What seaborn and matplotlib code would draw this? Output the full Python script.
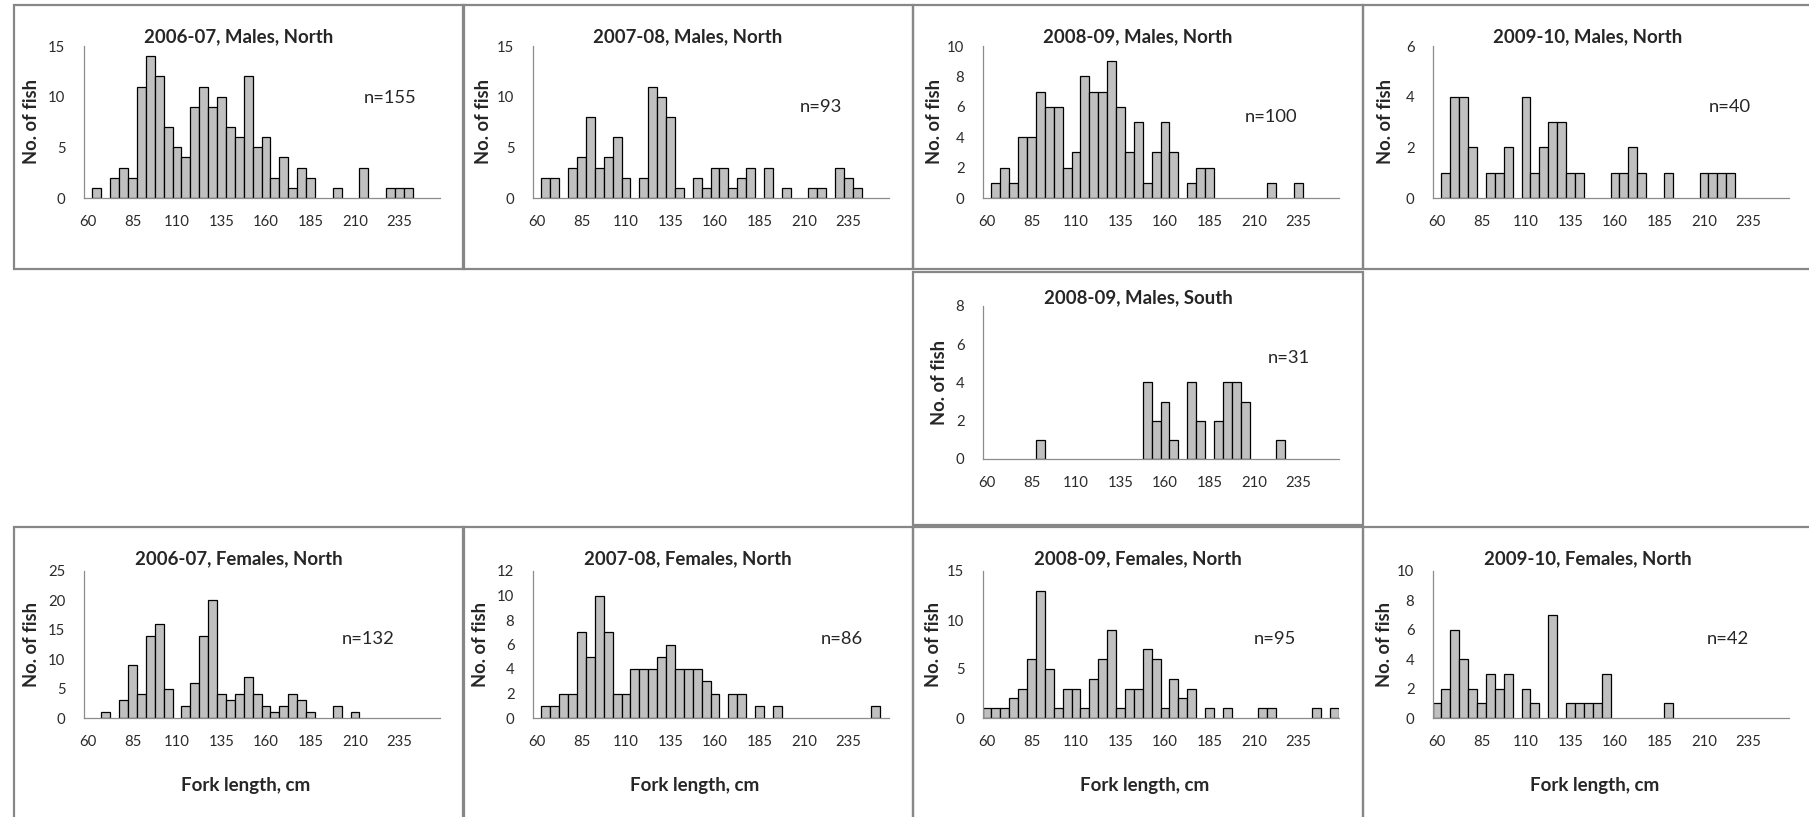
import numpy as np
import pandas as pd
import matplotlib
matplotlib.use("Agg")
import matplotlib.pyplot as plt
import seaborn as sns
from matplotlib.patches import Rectangle

# Fork length classes (cm), 5 cm bins
lengths = [60, 65, 70, 75, 80, 85, 90, 95, 100, 105,
           110, 115, 120, 125, 130, 135, 140, 145, 150, 155,
           160, 165, 170, 175, 180, 185, 190, 195, 200, 205,
           210, 215, 220, 225, 230, 235, 240, 245, 250, 255]
tick_labels = ["60", "85", "110", "135", "160", "185", "210", "235"]

# counts per length class
m0607n = [0, 1, 0, 2, 3, 2, 11, 14, 12, 7,
          5, 4, 9, 11, 9, 10, 7, 6, 12, 5,
          6, 2, 4, 1, 3, 2, 0, 0, 1, 0,
          0, 3, 0, 0, 1, 1, 1, 0, 0, 0]
m0708n = [0, 2, 2, 0, 3, 4, 8, 3, 4, 6,
          2, 0, 2, 11, 10, 8, 1, 0, 2, 1,
          3, 3, 1, 2, 3, 0, 3, 0, 1, 0,
          0, 1, 1, 0, 3, 2, 1, 0, 0, 0]
m0809n = [0, 1, 2, 1, 4, 4, 7, 6, 6, 2,
          3, 8, 7, 7, 9, 6, 3, 5, 1, 3,
          5, 3, 0, 1, 2, 2, 0, 0, 0, 0,
          0, 0, 1, 0, 0, 1, 0, 0, 0, 0]
m0910n = [0, 1, 4, 4, 2, 0, 1, 1, 2, 0,
          4, 1, 2, 3, 3, 1, 1, 0, 0, 0,
          1, 1, 2, 1, 0, 0, 1, 0, 0, 0,
          1, 1, 1, 1, 0, 0, 0, 0, 0, 0]
m0809s = [0, 0, 0, 0, 0, 0, 1, 0, 0, 0,
          0, 0, 0, 0, 0, 0, 0, 0, 4, 2,
          3, 1, 0, 4, 2, 0, 2, 4, 4, 3,
          0, 0, 0, 1, 0, 0, 0, 0, 0, 0]
f0607n = [0, 0, 1, 0, 3, 9, 4, 14, 16, 5,
          0, 2, 6, 14, 20, 4, 3, 4, 7, 4,
          2, 1, 2, 4, 3, 1, 0, 0, 2, 0,
          1, 0, 0, 0, 0, 0, 0, 0, 0, 0]
f0708n = [0, 1, 1, 2, 2, 7, 5, 10, 7, 2,
          2, 4, 4, 4, 5, 6, 4, 4, 4, 3,
          2, 0, 2, 2, 0, 1, 0, 1, 0, 0,
          0, 0, 0, 0, 0, 0, 0, 0, 1, 0]
f0809n = [1, 1, 1, 2, 3, 6, 13, 5, 1, 3,
          3, 1, 4, 6, 9, 1, 3, 3, 7, 6,
          1, 4, 2, 3, 0, 1, 0, 1, 0, 0,
          0, 1, 1, 0, 0, 0, 0, 1, 0, 1]
f0910n = [1, 2, 6, 4, 2, 1, 3, 2, 3, 0,
          2, 1, 0, 7, 0, 1, 1, 1, 1, 3,
          0, 0, 0, 0, 0, 0, 1, 0, 0, 0,
          0, 0, 0, 0, 0, 0, 0, 0, 0, 0]

panels = [
    # title, counts, n label, ymax, ystep, col, row, n position, ylabel x
    ("2006-07, Males, North", m0607n, "n=155", 15, 5, 0, 0, (0.86, 0.66), -0.123),
    ("2007-08, Males, North", m0708n, "n=93", 15, 5, 1, 0, (0.81, 0.60), -0.115),
    ("2008-09, Males, North", m0809n, "n=100", 10, 2, 2, 0, (0.81, 0.53), -0.11),
    ("2009-10, Males, North", m0910n, "n=40", 6, 2, 3, 0, (0.835, 0.60), -0.107),
    ("2008-09, Males, South", m0809s, "n=31", 8, 2, 2, 1, (0.86, 0.66), -0.097),
    ("2006-07, Females, North", f0607n, "n=132", 25, 5, 0, 2, (0.80, 0.54), -0.123),
    ("2007-08, Females, North", f0708n, "n=86", 12, 2, 1, 2, (0.87, 0.54), -0.123),
    ("2008-09, Females, North", f0809n, "n=95", 15, 5, 2, 2, (0.82, 0.54), -0.113),
    ("2009-10, Females, North", f0910n, "n=42", 10, 2, 3, 2, (0.83, 0.54), -0.11),
]

W, H = 1809, 817
sns.set_style("white")
plt.rcParams["font.family"] = ["Lato", "DejaVu Sans"]

fig = plt.figure(figsize=(W / 100, H / 100), dpi=100)
renderer = fig.canvas.get_renderer()


def fit_size(s, target_px, weight="normal"):
    # font size that gives the text the width it has in the original
    t = fig.text(0, 0, s, fontsize=10, fontweight=weight)
    w = t.get_window_extent(renderer).width
    t.remove()
    return 10 * target_px / w


title_fs = fit_size("2006-07, Males, North", 189, "bold")
ylab_fs = fit_size("No. of fish", 85, "bold")
xlab_fs = fit_size("Fork length, cm", 130, "bold")
n_fs = fit_size("n=155", 53)
tick_fs = fit_size("235", 26)

frame_left = [14, 463, 913, 1363]
frame_w = 450
rows = [  # frame top, frame bottom, axis top, axis zero, title y
    (5, 269, 46, 198, 37),
    (272, 525, 306, 459, 298),
    (527, 840, 571, 718, 559),
]
frame_col = "#878787"
order = [str(v) for v in lengths]

# chart frames
for c in range(4):
    for r in (0, 2):
        top, bot = rows[r][0], rows[r][1]
        fig.add_artist(Rectangle((frame_left[c] / W, 1 - bot / H), frame_w / W, (bot - top) / H,
                                 transform=fig.transFigure, fill=False,
                                 edgecolor=frame_col, linewidth=1.6))
top, bot = rows[1][0], rows[1][1]
fig.add_artist(Rectangle((frame_left[2] / W, 1 - bot / H), frame_w / W, (bot - top) / H,
                         transform=fig.transFigure, fill=False,
                         edgecolor=frame_col, linewidth=1.6))

for title, counts, ntext, ymax, ystep, col, row, npos, ylx in panels:
    ftop, fbot, atop, azero, ty = rows[row]
    left = frame_left[col] + 69.5
    ax = fig.add_axes([left / W, 1 - azero / H, 356 / W, (azero - atop) / H])
    df = pd.DataFrame({"length": order, "count": counts})
    df = df[df["count"] > 0]
    sns.barplot(data=df, x="length", y="count", order=order, color="#C0C0C0",
                saturation=1, width=1, edgecolor="black", linewidth=0.9,
                errorbar=None, ax=ax)
    ax.set_xlim(-0.5, len(lengths) - 0.5)
    ax.set_ylim(0, ymax)
    ax.set_yticks(np.arange(0, ymax + 0.1, ystep))
    ax.set_xticks(range(0, 40, 5))
    ax.set_xticklabels(tick_labels)
    ax.set_xticks(np.arange(-0.5, len(lengths), 1), minor=True)
    ax.tick_params(axis="x", which="major", length=0, pad=12, labelsize=tick_fs, labelcolor="#2b2b2b")
    ax.tick_params(axis="x", which="minor", length=4, width=0.9, color="#8c8c8c", direction="out")
    ax.tick_params(axis="y", which="major", length=4, width=0.9, color="#8c8c8c",
                   direction="out", pad=9, labelsize=tick_fs, labelcolor="#2b2b2b")
    for s in ("top", "right"):
        ax.spines[s].set_visible(False)
    for s in ("left", "bottom"):
        ax.spines[s].set_color("#8c8c8c")
        ax.spines[s].set_linewidth(0.9)
    ax.set_xlabel("")
    ax.set_ylabel("No. of fish", fontsize=ylab_fs, fontweight="bold")
    ax.yaxis.set_label_coords(ylx, 0.5)
    ax.text(npos[0], npos[1], ntext, transform=ax.transAxes, ha="center", va="center",
            fontsize=n_fs)
    fig.text((frame_left[col] + frame_w / 2) / W, 1 - ty / H, title, ha="center", va="center",
             fontsize=title_fs, fontweight="bold")
    if row == 2:
        fig.text((frame_left[col] + frame_w / 2 + 7) / W, 1 - 785 / H, "Fork length, cm",
                 ha="center", va="center", fontsize=xlab_fs, fontweight="bold")

fig.savefig("out.png", dpi=100)
